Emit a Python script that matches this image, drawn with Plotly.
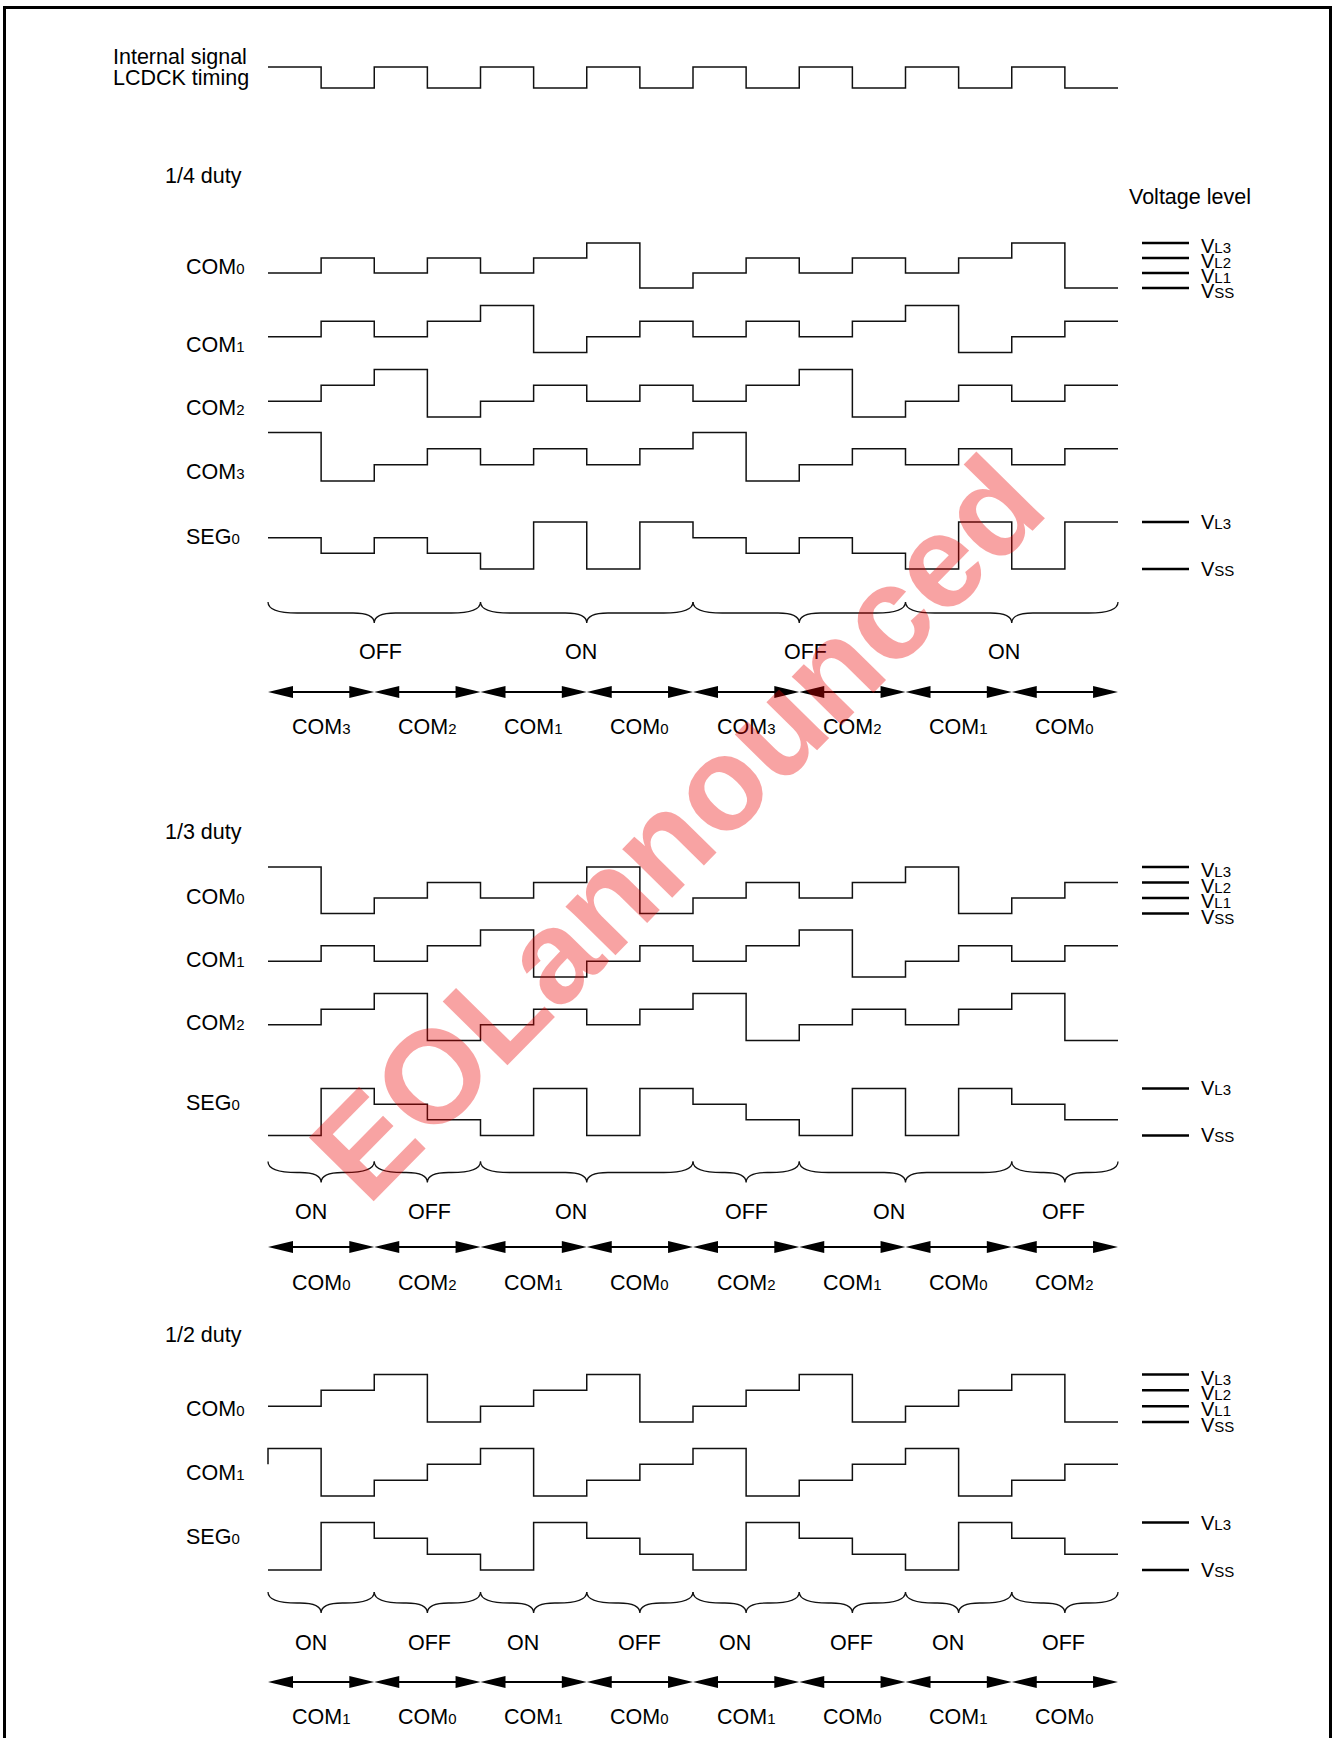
import plotly.graph_objects as go

# level of every waveform for each LCDCK half period: 0 = VSS, 1 = VL1, 2 = VL2, 3 = VL3
LCDCK = [1, 0, 1, 0, 1, 0, 1, 0, 1, 0, 1, 0, 1, 0, 1, 0]

D4_COM0 = [1, 2, 1, 2, 1, 2, 3, 0, 1, 2, 1, 2, 1, 2, 3, 0]
D4_COM1 = [1, 2, 1, 2, 3, 0, 1, 2, 1, 2, 1, 2, 3, 0, 1, 2]
D4_COM2 = [1, 2, 3, 0, 1, 2, 1, 2, 1, 2, 3, 0, 1, 2, 1, 2]
D4_COM3 = [3, 0, 1, 2, 1, 2, 1, 2, 3, 0, 1, 2, 1, 2, 1, 2]
D4_SEG0 = [2, 1, 2, 1, 0, 3, 0, 3, 2, 1, 2, 1, 0, 3, 0, 3]
D4_SLOT_COM = ['3', '2', '1', '0', '3', '2', '1', '0']
D4_SLOT_STATE = ['OFF', 'OFF', 'ON', 'ON', 'OFF', 'OFF', 'ON', 'ON']

D3_COM0 = [3, 0, 1, 2, 1, 2, 3, 0, 1, 2, 1, 2, 3, 0, 1, 2]
D3_COM1 = [1, 2, 1, 2, 3, 0, 1, 2, 1, 2, 3, 0, 1, 2, 1, 2]
D3_COM2 = [1, 2, 3, 0, 1, 2, 1, 2, 3, 0, 1, 2, 1, 2, 3, 0]
D3_SEG0 = [0, 3, 2, 1, 0, 3, 0, 3, 2, 1, 0, 3, 0, 3, 2, 1]
D3_SLOT_COM = ['0', '2', '1', '0', '2', '1', '0', '2']
D3_SLOT_STATE = ['ON', 'OFF', 'ON', 'ON', 'OFF', 'ON', 'ON', 'OFF']

D2_COM0 = [1, 2, 3, 0, 1, 2, 3, 0, 1, 2, 3, 0, 1, 2, 3, 0]
D2_COM1 = [3, 0, 1, 2, 3, 0, 1, 2, 3, 0, 1, 2, 3, 0, 1, 2]
D2_COM1_START = 2
D2_SEG0 = [0, 3, 2, 1, 0, 3, 2, 1, 0, 3, 2, 1, 0, 3, 2, 1]
D2_SLOT_COM = ['1', '0', '1', '0', '1', '0', '1', '0']
D2_SLOT_STATE = ['ON', 'OFF', 'ON', 'OFF', 'ON', 'OFF', 'ON', 'OFF']

LEVEL_NAMES = ['SS', 'L1', 'L2', 'L3']

# page geometry (pixels)
W, H = 1336, 1738
X0, HALF = 268, 53.125          # first LCDCK edge, width of one half period
PAD = 0.3
FONT = 'Liberation Sans, Arial, sans-serif'
SIZE, SMALL = 21.5, 15
INK = '#111111'


def sub(main, small, size=SMALL):
    return f"{main}<span style='font-size:{size}px'>{small}</span>"


fig = go.Figure()
annotations = []
shapes = []
layout_axes = {}
axis_count = [1]


def text(s, x, y, xanchor='left', size=SIZE, xref='x', yref='y', xshift=0, yshift=0):
    annotations.append(dict(text=s, x=x, y=y, xref=xref, yref=yref, xanchor=xanchor,
                            yanchor='middle', showarrow=False, xshift=xshift, yshift=yshift,
                            font=dict(family=FONT, size=size, color='#000')))


def add_row(levels, base, top, label=None, label_y=None, start=None):
    axis_count[0] += 1
    n = axis_count[0]
    top_level = max(levels)
    step = (base - top) / top_level
    lo_px, hi_px = base + 0.5 * step, top - 0.5 * step
    layout_axes[f'yaxis{n}'] = dict(domain=[1 - lo_px / H, 1 - hi_px / H], range=[-0.5, top_level + 0.5],
                                    anchor='x2', visible=False, fixedrange=True)
    xs = list(range(len(levels) + 1))
    ys = list(levels) + [levels[-1]]
    if start is not None:
        xs = [0] + xs
        ys = [start] + ys
    fig.add_trace(go.Scatter(x=xs, y=ys, xaxis='x2', yaxis=f'y{n}', mode='lines', line_shape='hv',
                             line=dict(color=INK, width=1.5), hoverinfo='skip'))
    if label:
        text(label, 184, label_y)
    return f'y{n}'


def add_levels(axis, levels, label_x, yshift):
    xs, ys = [], []
    for lv in levels:
        xs += [1142, 1189, None]
        ys += [lv, lv, None]
        text(sub('V', LEVEL_NAMES[lv], 15), label_x, lv, yref=axis, size=20, yshift=yshift)
    fig.add_trace(go.Scatter(x=xs, y=ys, xaxis='x', yaxis=axis, mode='lines',
                             line=dict(color='#000', width=2.5), hoverinfo='skip'))


def add_braces(states, y_top, label_y, label_dx):
    runs = []
    for k, st in enumerate(states):
        if runs and runs[-1][0] == st:
            runs[-1][2] = k
        else:
            runs.append([st, k, k])
    r1, r2 = 0.55, 0.4
    ym, yb = y_top + 11, y_top + 21
    for (st, k0, k1), dx in zip(runs, label_dx):
        x0, x1 = 2 * k0, 2 * (k1 + 1)
        xc = (x0 + x1) / 2
        path = (f'M{x0},{y_top} Q{x0},{ym} {x0 + r1},{ym} L{xc - r2},{ym} Q{xc},{ym} {xc},{yb} '
                f'Q{xc},{ym} {xc + r2},{ym} L{x1 - r1},{ym} Q{x1},{ym} {x1},{y_top}')
        shapes.append(dict(type='path', path=path, xref='x2', yref='y', line=dict(color=INK, width=1.3)))
        text(st, xc, label_y, xanchor='center', xref='x2', xshift=dx)


def add_arrows(coms, y, label_y):
    head, half_h = 0.47, 6
    for k, c in enumerate(coms):
        x0, x1 = 2 * k, 2 * k + 2
        shapes.append(dict(type='line', x0=x0 + 0.1, x1=x1 - 0.1, y0=y, y1=y, xref='x2', yref='y',
                           line=dict(color='#000', width=2.2)))
        for tip, base in ((x0, x0 + head), (x1, x1 - head)):
            shapes.append(dict(type='path', xref='x2', yref='y', fillcolor='#000', line=dict(width=0),
                               path=f'M{tip},{y} L{base},{y - half_h} L{base},{y + half_h} Z'))
        text(sub('COM', c), (x0 + x1) / 2, label_y, xanchor='center', xref='x2')


# LCDCK
text('Internal signal', 111, 57)
text('LCDCK timing', 111, 78)
add_row(LCDCK, 88, 67)
text('Voltage level', 1127, 197)

# 1/4 duty
text('1/4 duty', 163, 176)
a = add_row(D4_COM0, 288, 243, sub('COM', '0'), 267)
add_levels(a, [3, 2, 1, 0], 1199, -3)
add_row(D4_COM1, 352.5, 305.5, sub('COM', '1'), 345)
add_row(D4_COM2, 417, 369.5, sub('COM', '2'), 408)
add_row(D4_COM3, 481, 432.5, sub('COM', '3'), 472)
a = add_row(D4_SEG0, 569, 522, sub('SEG', '0'), 537)
add_levels(a, [3, 0], 1199, 0)
add_braces(D4_SLOT_STATE, 602, 652, [6, -6, 6, -8])
add_arrows(D4_SLOT_COM, 692, 727)

# 1/3 duty
text('1/3 duty', 163, 832)
a = add_row(D3_COM0, 913.5, 867, sub('COM', '0'), 897)
add_levels(a, [3, 2, 1, 0], 1199, -3)
add_row(D3_COM1, 977, 930, sub('COM', '1'), 960)
add_row(D3_COM2, 1040.5, 993.5, sub('COM', '2'), 1023)
a = add_row(D3_SEG0, 1135.5, 1088.5, sub('SEG', '0'), 1103)
add_levels(a, [3, 0], 1199, 0)
add_braces(D3_SLOT_STATE, 1161.5, 1212, [-10, 2, -16, 0, -17, -1])
add_arrows(D3_SLOT_COM, 1247, 1283)

# 1/2 duty
text('1/2 duty', 163, 1335)
a = add_row(D2_COM0, 1422, 1374.5, sub('COM', '0'), 1409)
add_levels(a, [3, 2, 1, 0], 1199, -3)
add_row(D2_COM1, 1496, 1448.5, sub('COM', '1'), 1473, start=D2_COM1_START)
a = add_row(D2_SEG0, 1570, 1522.5, sub('SEG', '0'), 1537)
add_levels(a, [3, 0], 1199, 0)
add_braces(D2_SLOT_STATE, 1592, 1643, [-10, 2, -11, 0, -11, -1, -11, -1])
add_arrows(D2_SLOT_COM, 1682, 1717)

# page frame
shapes.append(dict(type='path', xref='x', yref='y', path=f'M4.5,{H} L4.5,7.5 L1330.5,7.5 L1330.5,{H}',
                   line=dict(color='#000', width=3)))

# watermark
annotations.append(dict(text='<b>EOLannounced</b>', x=676, y=828, xref='x', yref='y', showarrow=False,
                        textangle=-45.5, font=dict(family=FONT, size=132, color='rgba(235,0,0,0.36)')))

fig.update_layout(
    width=W, height=H,
    margin=dict(l=0, r=0, t=0, b=0),
    paper_bgcolor='white', plot_bgcolor='rgba(0,0,0,0)',
    showlegend=False,
    xaxis=dict(domain=[0, 1], range=[0, W], visible=False, fixedrange=True),
    yaxis=dict(domain=[0, 1], range=[H, 0], visible=False, fixedrange=True),
    xaxis2=dict(domain=[(X0 - PAD * HALF) / W, (X0 + (16 + PAD) * HALF) / W],
                range=[-PAD, 16 + PAD], anchor='y2', visible=False, fixedrange=True),
    annotations=annotations,
    shapes=shapes,
    **layout_axes,
)

fig.write_html('out.html', config={'displayModeBar': False},
               post_script="document.body.style.margin='0';document.body.style.overflow='hidden';")
